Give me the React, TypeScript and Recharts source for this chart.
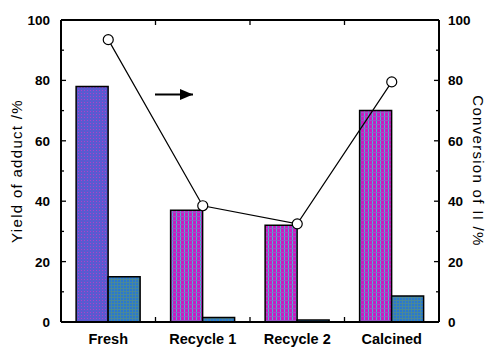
import React from 'react';
import { ComposedChart, Bar, Line, XAxis, YAxis, Cell, ReferenceLine } from 'recharts';

const categories = ['Fresh', 'Recycle 1', 'Recycle 2', 'Calcined'];
const yieldA = [78, 37, 32, 70];
const yieldB = [15, 1.5, 0.7, 8.6];
const conversion = [93.5, 38.5, 32.5, 79.5];
const yTicks = [0, 10, 20, 30, 40, 50, 60, 70, 80, 90, 100];

const data = categories.map((name, i) => ({
  name,
  a: yieldA[i],
  b: yieldB[i],
  conv: conversion[i],
}));

const fillsA = ['url(#pFresh)', 'url(#pMag)', 'url(#pMag)', 'url(#pMag)'];

const font = 'Liberation Sans, Arial, sans-serif';
const PLOT_L = 61;
const PLOT_R = 439;
const PLOT_T = 20;

// y-axis tick: inward tick mark (longer on the labelled values) plus label
const leftTick = (p: any) => {
  const v = p.payload.value;
  const len = v % 20 === 0 ? 5 : 3;
  return (
    <g key={`l${v}`}>
      <path d={`M${PLOT_L},${p.y}H${PLOT_L + len}`} stroke="#000" strokeWidth={1.3} fill="none" />
      {v % 20 === 0 && (
        <text x={50} y={p.y} dy={5} textAnchor="end" fontSize={13.5} fontWeight={700} fontFamily={font} fill="#000">
          {v}
        </text>
      )}
    </g>
  );
};

const rightTick = (p: any) => {
  const v = p.payload.value;
  const len = v % 20 === 0 ? 5 : 3;
  return (
    <g key={`r${v}`}>
      <path d={`M${PLOT_R - len},${p.y}H${PLOT_R}`} stroke="#000" strokeWidth={1.3} fill="none" />
      {v % 20 === 0 && (
        <text x={448} y={p.y} dy={5} textAnchor="start" fontSize={13.5} fontWeight={700} fontFamily={font} fill="#000">
          {v}
        </text>
      )}
    </g>
  );
};

// short tick marks at the category boundaries, top and bottom
const boundaryTick = (p: any) => {
  const top = Math.min(p.y1, p.y2);
  const bottom = Math.max(p.y1, p.y2);
  return (
    <path d={`M${p.x1},${top}v5M${p.x1},${bottom}v-5`} stroke="#000" strokeWidth={1.3} fill="none" />
  );
};

const titleStyle = { textAnchor: 'middle', fontSize: 15, letterSpacing: 1.3, fill: '#000', fontFamily: font } as any;

export default function App() {
  return (
    <div style={{ position: 'absolute', left: 0, top: 0, width: 491, height: 347, background: '#fff' }}>
      <ComposedChart
        width={491}
        height={347}
        data={data}
        margin={{ top: PLOT_T, right: 0, bottom: 0, left: 0 }}
        barCategoryGap="16%"
        barGap={0}
      >
        <defs>
          <pattern id="pFresh" width="3" height="3" patternUnits="userSpaceOnUse">
            <rect width="3" height="3" fill="#5a5ad0" />
            <rect width="1" height="1" fill="#b040c8" />
          </pattern>
          <pattern id="pMag" width="4" height="4" patternUnits="userSpaceOnUse">
            <rect width="4" height="4" fill="#c81cc0" />
            <rect width="1" height="4" fill="#48b8d0" />
            <rect width="4" height="1" fill="#9858c8" />
          </pattern>
          <pattern id="pBlue" width="3" height="3" patternUnits="userSpaceOnUse">
            <rect width="3" height="3" fill="#2a78d0" />
            <rect width="1" height="3" fill="#4a8898" />
            <rect width="3" height="1" fill="#4a8898" />
          </pattern>
          <marker id="arrowHead" markerWidth="13" markerHeight="11" refX="13" refY="5.5" orient="auto" markerUnits="userSpaceOnUse">
            <path d="M0,0 L13,5.5 L0,11 Z" fill="#000" />
          </marker>
        </defs>

        <XAxis
          dataKey="name"
          axisLine={{ stroke: '#000', strokeWidth: 2 }}
          tickLine={false}
          tick={{ fill: '#000', fontSize: 14.5, fontWeight: 700, fontFamily: font }}
          tickMargin={6}
          height={25}
        />
        <YAxis
          yAxisId="left"
          domain={[0, 100]}
          ticks={yTicks}
          interval={0}
          width={PLOT_L}
          tick={leftTick}
          tickLine={false}
          axisLine={{ stroke: '#000', strokeWidth: 2 }}
          label={{ value: 'Yield of adduct /%', angle: -90, position: 'insideLeft', offset: 17, style: titleStyle }}
        />
        <YAxis
          yAxisId="right"
          orientation="right"
          domain={[0, 100]}
          ticks={yTicks}
          interval={0}
          width={491 - PLOT_R}
          tick={rightTick}
          tickLine={false}
          axisLine={{ stroke: '#000', strokeWidth: 2 }}
          label={{ value: 'Conversion of II /%', angle: 90, position: 'insideRight', offset: 13, style: titleStyle }}
        />

        <ReferenceLine yAxisId="left" y={100} stroke="#000" strokeWidth={2} />
        {categories.slice(1).map((c) => (
          <ReferenceLine key={c} yAxisId="left" x={c} position="start" shape={boundaryTick} />
        ))}

        <Bar yAxisId="left" dataKey="a" stroke="#000" strokeWidth={1.5} isAnimationActive={false}>
          {data.map((d, i) => (
            <Cell key={d.name} fill={fillsA[i]} />
          ))}
        </Bar>
        <Bar yAxisId="left" dataKey="b" fill="url(#pBlue)" stroke="#000" strokeWidth={1.5} isAnimationActive={false} />
        <Line
          yAxisId="right"
          dataKey="conv"
          stroke="#000"
          strokeWidth={1.2}
          dot={{ r: 5, fill: '#fff', stroke: '#000', strokeWidth: 1.2 }}
          isAnimationActive={false}
        />
        <line x1={155} y1={94.5} x2={193} y2={94.5} stroke="#000" strokeWidth={2} markerEnd="url(#arrowHead)" />
      </ComposedChart>
    </div>
  );
}
